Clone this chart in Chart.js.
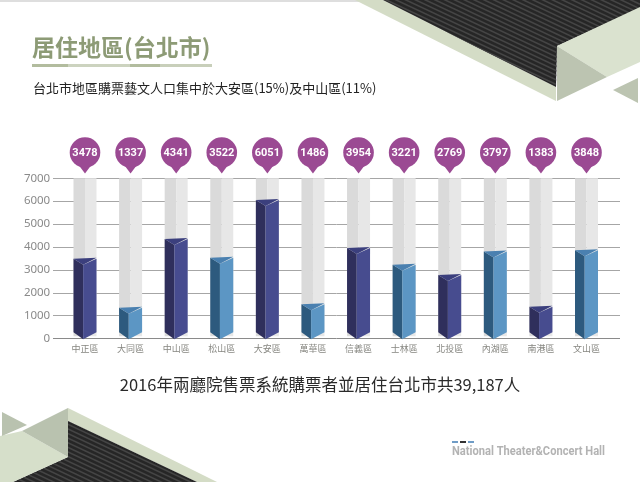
<!DOCTYPE html>
<html>
<head>
<meta charset="utf-8">
<script src="https://cdn.jsdelivr.net/npm/chart.js@4.4.1/dist/chart.umd.min.js"></script>
<style>
  html, body { margin: 0; padding: 0; background: #fff; }
  #wrap { width: 640px; height: 482px; position: relative; }
</style>
</head>
<body>
<div id="wrap"><canvas id="chart" width="640" height="482"></canvas></div>
<script>
  // ── Data ──────────────────────────────────────────
  const districts = ['中正區', '大同區', '中山區', '松山區', '大安區', '萬華區', '信義區', '士林區', '北投區', '內湖區', '南港區', '文山區'];
  const buyers = [3478, 1337, 4341, 3522, 6051, 1486, 3954, 3221, 2769, 3797, 1383, 3848];
  const yMax = 7000;
  const yStep = 1000;

  const titleText = '居住地區(台北市)';
  const subText = '台北市地區購票藝文人口集中於大安區(15%)及中山區(11%)';
  const captionText = '2016年兩廳院售票系統購票者並居住台北市共39,187人';
  const logoText = 'National Theater&Concert Hall';

  const CJK = '"Noto Sans CJK TC", "Noto Sans CJK SC", sans-serif';
  const NAVY = { left: '#2f2f5c', right: '#474c8f', top: '#3b3f7d' };
  const BLUE = { left: '#2d5a7e', right: '#5c96c4', top: '#4a80b0' };

  function poly(ctx, pts, color) {
    ctx.beginPath();
    ctx.moveTo(pts[0][0], pts[0][1]);
    for (let i = 1; i < pts.length; i++) ctx.lineTo(pts[i][0], pts[i][1]);
    ctx.closePath();
    ctx.fillStyle = color;
    ctx.fill();
  }

  function stripes(ctx, clipPts, x0, x1) {
    ctx.save();
    ctx.beginPath();
    ctx.moveTo(clipPts[0][0], clipPts[0][1]);
    for (let i = 1; i < clipPts.length; i++) ctx.lineTo(clipPts[i][0], clipPts[i][1]);
    ctx.closePath();
    ctx.clip();
    ctx.fillStyle = '#262626';
    ctx.fillRect(x0, 0, x1 - x0, 482);
    ctx.strokeStyle = '#454545';
    ctx.lineWidth = 1.6;
    for (let k = -500; k < 700; k += 4.6) {
      ctx.beginPath();
      ctx.moveTo(x0, k);
      ctx.lineTo(x1, k + (x1 - x0) * 0.47);
      ctx.stroke();
    }
    ctx.restore();
  }

  // ── Decorations / texts ──────────────────────────────────────────
  const decoPlugin = {
    id: 'deco',
    beforeDraw(chart) {
      const ctx = chart.ctx;
      ctx.save();
      ctx.fillStyle = '#fff';
      ctx.fillRect(0, 0, 640, 482);
      // faint top rule
      ctx.fillStyle = '#dedede';
      ctx.fillRect(0, 0, 360, 2);

      // top right shapes
      poly(ctx, [[355, 0], [383, 0], [556, 87], [556, 101]], '#d4dcc6');
      stripes(ctx, [[383, 0], [640, 0], [640, 8], [557, 46], [556, 87]], 360, 640);
      poly(ctx, [[557, 46], [640, 7], [640, 62], [607, 77]], '#dae2cf');
      poly(ctx, [[557, 46], [607, 77], [557, 101]], '#bcc4b1');
      poly(ctx, [[613, 90], [638, 78], [638, 103]], '#bcc4b1');

      // bottom left shapes
      poly(ctx, [[68, 408], [217, 482], [197, 482], [68, 421]], '#d4dcc6');
      stripes(ctx, [[68, 421], [197, 482], [13, 482], [68, 457]], 0, 220);
      poly(ctx, [[0, 436], [22, 431], [68, 457], [13, 482], [0, 482]], '#d6dfca');
      poly(ctx, [[68, 408], [68, 457], [22, 431]], '#b9c2af');
      poly(ctx, [[2, 412], [27, 425], [2, 436]], '#b9c2af');

      // title
      ctx.textBaseline = 'middle';
      ctx.textAlign = 'left';
      ctx.fillStyle = '#8d9b76';
      ctx.font = 'bold 23px ' + CJK;
      ctx.fillText(titleText, 32, 47, 179);
      // underline
      const segs = [[32, 68, '#b2bc9e'], [68, 130, '#ccd3bf'], [130, 160, '#b2bc9e'], [160, 212, '#c8cfba']];
      for (const s of segs) { ctx.fillStyle = s[2]; ctx.fillRect(s[0], 64, s[1] - s[0], 3); }
      // subtitle
      ctx.fillStyle = '#222';
      ctx.font = '13px ' + CJK;
      ctx.fillText(subText, 33, 88.5, 344);

      // caption
      ctx.textAlign = 'center';
      ctx.fillStyle = '#2a2a2a';
      ctx.font = '16.5px ' + CJK;
      ctx.fillText(captionText, 320, 385, 406);

      // logo
      ctx.fillStyle = '#6f9cc6'; ctx.fillRect(452, 441, 6, 2);
      ctx.fillStyle = '#333'; ctx.fillRect(460, 441, 6, 2);
      ctx.fillStyle = '#6f9cc6'; ctx.fillRect(468, 441, 6, 2);
      ctx.textAlign = 'left';
      ctx.fillStyle = '#b3b3b3';
      ctx.font = 'bold 13px "Liberation Sans Narrow", Roboto, sans-serif';
      ctx.fillText(logoText, 452, 451.5, 153);
      ctx.restore();
    },
    beforeDatasetsDraw(chart) {
      const ctx = chart.ctx;
      const ys = chart.scales.y;
      ctx.save();
      // grid lines, a little wider than the plot
      for (const t of ys.ticks) {
        const y = Math.round(ys.getPixelForValue(t.value)) + 0.5;
        ctx.strokeStyle = t.value === 0 ? '#8a8a8a' : '#a6a6a6';
        ctx.lineWidth = 1;
        ctx.beginPath(); ctx.moveTo(53, y); ctx.lineTo(620, y); ctx.stroke();
      }
      // gray tracks
      chart.getDatasetMeta(0).data.forEach(el => {
        const { x, y, base, width } = el.getProps(['x', 'y', 'base', 'width'], true);
        const L = x - width / 2, R = x + width / 2, M = x;
        poly(ctx, [[L, y], [M, y], [M, base - 2], [L, base - 2]], '#dadada');
        poly(ctx, [[M, y], [R, y], [R, base - 2], [M, base - 2]], '#e7e7e7');
      });
      // prism bars
      chart.getDatasetMeta(1).data.forEach((el, i) => {
        const { x, y, base, width } = el.getProps(['x', 'y', 'base', 'width'], true);
        const c = i % 2 === 0 ? NAVY : BLUE;
        const L = x - width / 2, R = x + width / 2, F = L + width * 0.42;
        poly(ctx, [[L, y], [F, y + 6], [F, base + 1], [L, base - 6]], c.left);
        poly(ctx, [[F, y + 6], [R, y], [R, base - 6], [F, base + 1]], c.right);
        poly(ctx, [[L, y], [R, y - 1], [F, y + 6]], c.top);
      });
      ctx.restore();
    },
    beforeDatasetDraw() { return false; },
    afterDatasetsDraw(chart) {
      const ctx = chart.ctx;
      ctx.save();
      chart.getDatasetMeta(1).data.forEach((el, i) => {
        const x = el.x, cy = 152.5;
        ctx.fillStyle = '#9b4a93';
        ctx.beginPath(); ctx.arc(x, cy, 15.3, 0, Math.PI * 2); ctx.fill();
        ctx.beginPath(); ctx.moveTo(x - 6, cy + 13); ctx.lineTo(x + 6, cy + 13); ctx.lineTo(x, cy + 21); ctx.closePath(); ctx.fill();
        ctx.fillStyle = '#fff';
        ctx.font = 'bold 11px Roboto, "Open Sans", sans-serif';
        ctx.textAlign = 'center';
        ctx.textBaseline = 'middle';
        ctx.fillText(String(buyers[i]), x, cy + 0.5);
      });
      ctx.restore();
    }
  };

  // ── Chart ──────────────────────────────────────────
  new Chart(document.getElementById('chart'), {
    type: 'bar',
    data: {
      labels: districts,
      datasets: [
        { label: 'track', data: districts.map(() => yMax), grouped: false, barThickness: 23, backgroundColor: '#e0e0e0' },
        { label: 'buyers', data: buyers, grouped: false, barThickness: 23, backgroundColor: '#474c8f' }
      ]
    },
    options: {
      responsive: false,
      animation: false,
      layout: { padding: { left: 22.2, right: 30.7, top: 178.3, bottom: 119.7 } },
      plugins: { legend: { display: false }, tooltip: { enabled: false } },
      scales: {
        x: {
          grid: { display: false, drawTicks: false }, border: { display: false },
          ticks: { color: '#868680', font: { size: 9, family: CJK }, padding: 5, maxRotation: 0, autoSkip: false },
          afterFit(s) { s.height = 24; }
        },
        y: {
          min: 0, max: yMax,
          grid: { display: false, drawTicks: false }, border: { display: false },
          ticks: { stepSize: yStep, color: '#8a8a8a', font: { size: 11.5, family: '"Noto Sans", sans-serif' }, padding: 12,
                   callback: v => String(v) },
          afterFit(s) { s.width = 40; }
        }
      }
    },
    plugins: [decoPlugin]
  });
</script>
</body>
</html>
